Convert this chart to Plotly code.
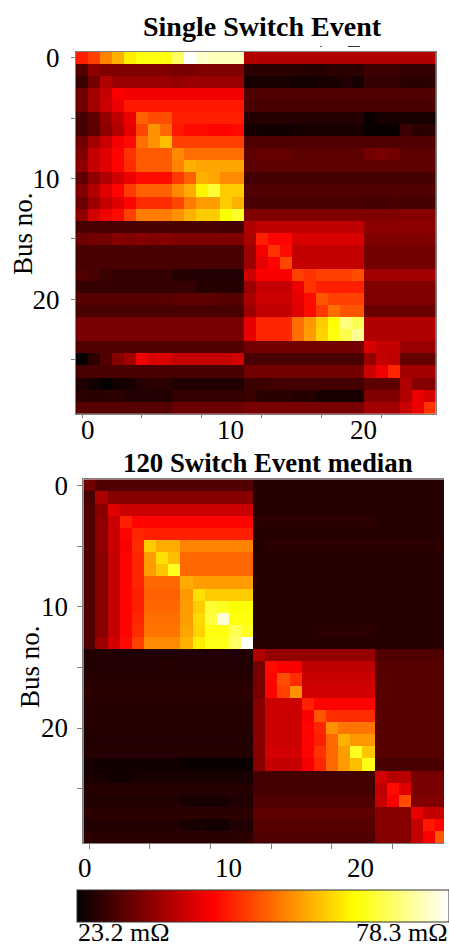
import plotly.graph_objects as go

W, H = 449, 947
Z_MIN, Z_MAX = 23.2, 78.3

# Levels: percent position on the colour bar.
single_event_levels = [
 [41,46,56,63,72,76,76,76,84,100,95,93,93,93, 25,25,25,25,25,25,25,25,25,25, 25,25,25,25,25,25],
 [11,20,18,18,18,18,18,18,17,17,18,18,18,18, 6,6,6,6,6,5,5,6,6,6, 8,8,8,7,7,7],
 [8,16,25,22,22,22,22,22,21,22,22,22,22,22, 3,3,3,3,2,2,3,3,4,3, 7,7,7,6,6,6],
 [16,23,28,36,35,35,35,35,35,35,35,35,35,35, 11,11,11,11,11,11,11,11,11,11, 11,11,11,11,11,11],
 [16,23,29,34,40,40,40,40,40,40,40,40,40,40, 10,10,10,10,10,10,10,10,10,10, 10,10,10,10,10,10],
 [9,13,21,27,34,51,48,48,41,41,41,41,41,41, 5,5,5,5,5,5,5,5,5,5, 1,3,3,3,3,3],
 [9,13,20,25,33,47,58,52,40,38,38,37,37,38, 3,2,2,2,3,3,3,3,3,3, 1,1,1,8,6,6],
 [16,23,29,35,38,53,58,65,46,46,46,46,46,46, 11,11,11,11,11,11,11,11,11,11, 11,11,11,11,11,11],
 [18,28,32,37,44,50,50,50,57,53,53,53,53,53, 13,14,14,14,13,13,13,13,13,13, 16,17,16,13,13,13],
 [20,28,32,37,43,50,50,50,56,63,61,61,61,61, 13,13,13,13,13,13,13,13,13,13, 13,13,13,13,13,13],
 [13,20,25,30,34,38,38,38,45,51,63,61,57,57, 9,9,9,9,9,9,9,9,9,9, 9,9,9,9,9,9],
 [18,25,32,37,45,51,51,51,57,62,73,80,67,67, 11,11,11,11,11,11,11,11,11,11, 11,11,11,11,11,11],
 [15,22,28,32,37,43,43,43,47,55,60,60,67,63, 10,10,10,10,10,10,10,10,10,10, 9,9,10,9,9,9],
 [20,30,34,38,46,55,55,55,58,63,67,67,75,79, 18,18,18,18,18,18,18,18,18,18, 18,18,18,19,19,19],
 [10,10,10,10,10,10,10,10,10,10,10,10,9,9, 25,27,27,27,27,27,27,27,27,27, 20,20,20,20,20,20],
 [15,16,16,19,18,19,18,19,18,18,18,18,18,18, 24,41,37,37,31,31,31,31,31,31, 18,18,18,18,18,18],
 [10,10,10,10,10,10,10,10,10,10,10,10,10,10, 22,35,44,38,28,28,28,28,28,28, 16,16,16,16,16,16],
 [10,10,10,10,10,10,10,10,10,10,10,10,10,10, 22,33,37,47,28,28,28,28,28,28, 16,16,16,16,16,16],
 [11,10,8,7,7,7,7,7,5,5,4,4,4,4, 29,36,36,36,46,44,46,46,46,48, 23,23,23,23,23,23],
 [7,7,7,7,7,7,7,7,7,7,5,5,5,5, 22,28,28,28,34,44,41,41,41,41, 18,18,18,18,18,18],
 [12,12,12,12,12,12,12,12,13,13,13,13,12,12, 24,29,29,29,33,38,49,46,46,46, 18,18,18,18,18,18],
 [10,10,10,10,10,10,10,10,10,10,10,10,10,10, 22,27,27,27,32,38,45,53,49,49, 15,15,15,15,15,15],
 [17,17,17,17,17,17,17,17,17,17,17,17,17,17, 33,42,42,42,53,59,67,75,87,83, 25,25,25,25,25,25],
 [17,17,17,17,17,17,17,17,17,17,17,17,17,17, 33,42,42,42,53,60,68,76,82,89, 25,25,25,25,25,25],
 [11,11,11,11,11,11,11,11,11,11,11,11,11,11, 16,16,16,16,16,16,16,16,16,16, 31,28,28,22,22,22],
 [0,6,11,19,23,34,31,31,28,28,28,28,28,30, 10,10,10,10,10,10,10,10,10,10, 21,28,27,14,14,14],
 [10,10,10,10,10,10,10,10,10,10,10,10,10,10, 16,16,16,16,16,16,16,16,16,16, 29,34,42,23,23,23],
 [4,2,0,2,3,5,6,6,4,4,4,4,4,4, 8,8,9,9,9,9,9,9,9,9, 13,13,13,25,19,19],
 [6,6,6,6,4,4,4,4,7,7,7,7,7,7, 8,6,6,6,5,5,3,3,3,3, 18,18,18,25,34,31],
 [12,12,12,12,12,12,12,12,15,15,15,15,15,15, 17,17,17,17,17,17,17,17,17,17, 23,23,23,29,34,44],
]

median_event_levels = [
 [16,11,11,11,11,11,11,11,11,11,11,11,11,11, 5,5,5,5,5,5,5,5,5,5, 5,5,5,5,5,5],
 [10,24,19,19,19,19,19,19,19,19,19,19,19,19, 5,5,5,5,5,5,5,5,5,5, 5,5,5,5,5,5],
 [11,19,32,29,29,29,29,29,29,29,29,29,29,29, 5,5,5,5,5,5,5,5,5,5, 5,5,5,5,5,5],
 [11,20,29,41,37,37,37,37,37,37,37,37,37,37, 6,6,6,6,6,6,6,6,6,6, 5,5,5,5,5,5],
 [11,20,29,37,42,41,41,41,41,41,41,41,41,41, 5,5,5,5,5,5,5,5,5,5, 5,5,5,5,5,5],
 [11,20,29,36,43,67,62,62,56,56,56,56,56,56, 5,6,6,6,6,6,6,6,6,6, 6,6,6,6,6,6],
 [11,19,28,37,42,60,70,65,52,52,52,52,52,52, 5,5,5,5,5,5,5,5,5,5, 5,5,5,5,5,5],
 [11,19,28,37,42,60,66,78,52,52,52,52,52,52, 5,5,5,5,5,5,5,5,5,5, 5,5,5,5,5,5],
 [11,19,28,37,42,52,52,52,62,60,60,60,60,60, 5,5,5,5,5,5,5,5,5,5, 5,5,5,5,5,5],
 [11,19,28,37,41,51,51,51,59,70,67,67,67,67, 5,5,5,5,5,5,5,5,5,5, 5,5,5,5,5,5],
 [11,19,28,37,41,52,52,52,60,67,80,78,75,75, 5,5,5,5,5,5,5,5,5,5, 5,5,5,5,5,5],
 [11,19,28,37,42,53,53,53,60,69,81,96,76,76, 5,5,5,5,5,5,5,5,5,5, 5,5,5,5,5,5],
 [11,19,28,37,43,54,54,54,61,68,76,76,83,78, 5,5,5,5,5,6,6,6,6,6, 5,5,5,5,5,5],
 [11,22,30,38,46,57,57,57,63,72,77,77,85,100, 5,5,5,5,5,5,5,5,5,5, 5,5,5,5,5,5],
 [4,4,4,4,4,4,4,4,4,4,4,4,4,4, 25,21,21,21,21,21,21,21,21,21, 11,11,11,11,11,11],
 [4,4,4,4,4,4,5,5,4,4,4,4,4,4, 17,38,36,36,27,27,27,27,27,27, 12,12,12,12,12,12],
 [5,5,5,5,5,5,5,5,5,5,5,5,5,5, 17,37,48,43,29,29,29,29,29,29, 12,12,12,12,12,12],
 [6,6,6,6,6,6,6,6,6,6,6,6,6,6, 17,37,46,58,30,30,30,30,30,30, 12,12,12,12,12,12],
 [5,5,5,5,5,5,5,5,5,5,5,5,5,5, 19,29,29,29,41,37,37,37,37,37, 12,12,12,12,12,12],
 [5,5,5,5,5,5,5,5,5,5,5,5,5,5, 19,29,29,29,36,49,43,43,43,43, 12,12,12,12,12,12],
 [5,5,5,5,5,5,5,5,5,5,5,5,5,5, 19,29,29,29,37,42,58,54,54,54, 12,12,12,12,12,12],
 [4,4,4,4,4,4,4,4,4,4,4,4,4,4, 19,29,29,29,37,41,52,63,59,59, 12,12,12,12,12,12],
 [5,5,5,5,5,5,5,5,5,5,5,5,5,5, 19,30,30,30,37,44,52,60,78,66, 12,12,12,12,12,12],
 [3,2,2,2,2,2,2,2,1,1,1,1,1,1, 19,28,28,28,35,42,52,60,65,77, 10,10,10,10,10,10],
 [3,3,2,2,3,3,3,3,3,3,3,3,3,3, 9,9,9,9,9,9,9,9,9,9, 30,26,26,17,17,17],
 [5,5,5,5,5,5,5,5,5,5,5,5,5,5, 9,9,9,9,9,9,9,9,9,9, 27,38,32,17,17,17],
 [4,4,4,4,4,4,4,4,3,3,3,3,4,4, 11,11,11,11,11,11,11,11,11,11, 28,36,48,18,18,18],
 [6,6,6,6,6,6,6,6,6,6,6,6,6,6, 13,13,13,13,13,13,13,13,13,13, 19,19,19,33,28,28],
 [4,4,4,4,4,4,4,4,3,3,2,2,4,4, 12,12,12,12,12,12,12,12,12,12, 19,19,19,28,40,37],
 [6,6,6,6,6,6,6,6,6,6,6,6,6,6, 11,11,11,11,11,11,11,11,11,11, 19,19,19,28,36,49],
]

tick_positions = [0, 5, 10, 15, 20, 25]
tick_labels = ["0", "", "10", "", "20", ""]
x_label_text = ["0", "10", "20"]
bus_title = "Bus no."
panel_titles = ["Single Switch Event", "120 Switch Event median"]
scale_labels = ["23.2 m\u03a9", "78.3 m\u03a9"]


def to_mohm(levels):
    return [[Z_MIN + v / 100 * (Z_MAX - Z_MIN) for v in row] for row in levels]


def px(x):
    return x / W


def py(y):
    return 1 - y / H


FONT = "Liberation Serif"
LINE = "#808080"
LABEL_SIZE = 27
hot = [[0, "rgb(4,0,0)"], [0.365, "rgb(255,0,0)"], [0.746, "rgb(255,255,0)"], [1, "rgb(255,255,255)"]]

fig = go.Figure()
fig.add_trace(go.Heatmap(z=to_mohm(single_event_levels), xaxis="x", yaxis="y", coloraxis="coloraxis"))
fig.add_trace(go.Heatmap(z=to_mohm(median_event_levels), xaxis="x2", yaxis="y2", coloraxis="coloraxis"))

common_axis = dict(showgrid=False, zeroline=False, showline=True, linecolor=LINE, linewidth=1,
                   ticks="outside", tickcolor=LINE, tickwidth=1, tickvals=tick_positions)

annotations = []


def text(x, y, s, size=LABEL_SIZE, xanchor="center", **kw):
    annotations.append(dict(x=px(x), y=py(y), xref="paper", yref="paper", text=s, showarrow=False,
                            xanchor=xanchor, yanchor="middle", borderpad=0, borderwidth=0,
                            font=dict(family=FONT, size=size, color="black"), **kw))


text(262.5, 26, "<b>%s</b>" % panel_titles[0], size=28)
text(268, 463, "<b>%s</b>" % panel_titles[1], size=26.8)
for x, s in zip([88, 230, 363], x_label_text):
    text(x, 430, s)
for x, s in zip([85, 228, 360], x_label_text):
    text(x, 868, s)
text(23, 234, bus_title, textangle=-90)
text(30, 667, bus_title, textangle=-90)
text(78, 932, scale_labels[0], size=26, xanchor="left")
text(448, 932, scale_labels[1], size=26, xanchor="right")

# Two clipped fragments of stray text just above the first panel.
fragments = [dict(type="line", xref="paper", yref="paper", x0=px(320), x1=px(322), y0=py(46.5), y1=py(46.5),
                  line=dict(color="#555555", width=1)),
             dict(type="line", xref="paper", yref="paper", x0=px(348), x1=px(360), y0=py(46.5), y1=py(46.5),
                  line=dict(color="#333333", width=1))]

fig.update_layout(
    width=W, height=H, margin=dict(l=0, r=0, t=0, b=0, autoexpand=False), paper_bgcolor="white", plot_bgcolor="white",
    font=dict(family=FONT, size=LABEL_SIZE, color="black"),
    showlegend=False, annotations=annotations, shapes=fragments,
    coloraxis=dict(
        cmin=Z_MIN, cmax=Z_MAX, colorscale=hot,
        colorbar=dict(orientation="h", x=px(77), xanchor="left", y=py(889.5), yanchor="top",
                      lenmode="pixels", len=371.5, thicknessmode="pixels", thickness=32,
                      xpad=0, ypad=0, ticks="", showticklabels=False,
                      outlinecolor="#333333", outlinewidth=1),
    ),
    xaxis=dict(domain=[px(76), px(435.7)], range=[-0.5, 29.5], anchor="y", mirror=True, ticklen=3,
               showticklabels=False, **common_axis),
    yaxis=dict(domain=[py(414), py(51.7)], range=[29.5, -0.5], anchor="x", mirror=True, ticklen=4,
               ticktext=tick_labels, ticklabelstandoff=6, **common_axis),
    xaxis2=dict(domain=[px(83.3), px(444)], range=[-0.5, 29.25], anchor="y2", mirror=True, ticklen=5,
                showticklabels=False, **common_axis),
    yaxis2=dict(domain=[py(843.3), py(479.3)], range=[29.5, -0.5], anchor="x2", ticklen=5,
                ticktext=tick_labels, ticklabelstandoff=4, **common_axis),
)

fig.write_html("out.html", config={"displayModeBar": False}, post_script="document.body.style.margin='0';")
